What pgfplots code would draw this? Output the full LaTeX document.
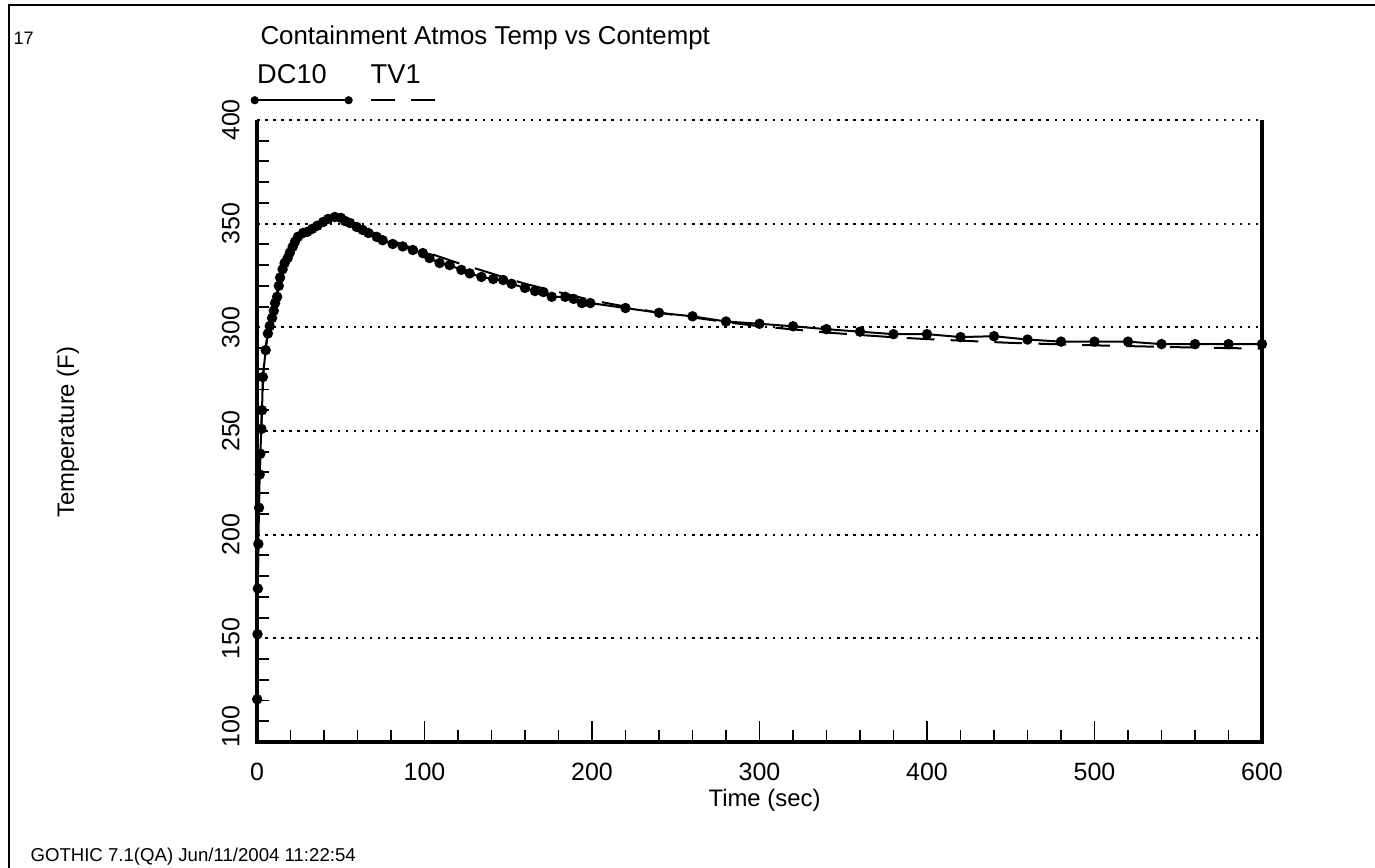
\documentclass[border=0pt]{standalone}
\usepackage{fontspec}
\setmainfont{Liberation Sans}
\usepackage{pgfplots}
\pgfplotsset{compat=1.18}
\begin{document}
\begin{tikzpicture}
\useasboundingbox (0,0) rectangle (495pt,312.48pt);
\draw[line width=0.72pt] (3.24pt,0pt) -- (3.24pt,310.68pt) -- (496pt,310.68pt);
\node[anchor=base west, inner sep=0pt, font=\fontsize{6.5}{7}\selectfont] at (4.68pt,296.28pt) {17};
\node[anchor=base west, inner sep=0pt, font=\fontsize{9.3}{10}\selectfont] at (93.6pt,296.3pt) {Containment Atmos Temp vs Contempt};
\node[anchor=base west, inner sep=0pt, font=\fontsize{6.7}{7}\selectfont] at (10.8pt,2.3pt) {GOTHIC 7.1(QA) Jun/11/2004 11:22:54};
\begin{axis}[
  at={(92.52pt,45.36pt)}, anchor=south west,
  scale only axis, width=361.8pt, height=223.92pt,
  xmin=0, xmax=600, ymin=100, ymax=400,
  xtick={0,100,...,600}, ytick={100,150,...,400},
  yticklabels={{\hspace*{11pt}100},150,200,250,300,350,400},
  minor x tick num=4, minor y tick num=4,
  xtick pos=bottom, ytick pos=left,
  tick align=inside,
  major tick length=7.56pt, minor tick length=4.2pt,
  major y tick style={draw=none},
  every tick/.append style={black, line width=0.7pt},
  ymajorgrids,
  major grid style={black, line width=0.7pt, dash pattern=on 0.9pt off 2pt},
  axis line style={draw=none},
  tick label style={font=\fontsize{9}{10}\selectfont},
  /pgf/number format/assume math mode=true,
  xticklabel style={inner sep=0pt}, xticklabel shift=7.2pt,
  yticklabel style={rotate=90, anchor=south, inner sep=0pt}, yticklabel shift=6.1pt,
  xlabel={Time (sec)}, ylabel={Temperature (F)},
  label style={font=\fontsize{8.6}{10}\selectfont},
  xlabel style={at={(axis description cs:0.505,-0.0932)}, anchor=center},
  ylabel style={at={(axis description cs:-0.188,0.498)}, anchor=center},
  clip=false,
  legend columns=2,
  legend style={draw=none, fill=none, inner sep=0pt, outer sep=0pt,
    at={(axis description cs:-0.0053,1.0268)}, anchor=south west,
    nodes={inner sep=0pt, outer sep=0pt},
    /tikz/column sep=0pt,
    /tikz/every even column/.append style={column sep=5.5pt}},
]
\addplot[black, line width=0.72pt, mark=*, mark size=1.5pt,
  legend image code/.code={
    \draw[black, line width=0.72pt, mark=*, mark size=1.1pt] plot coordinates {(0pt,0pt) (33.8pt,0pt)};
    \node[anchor=base west, inner sep=0pt, font=\fontsize{9.8}{10}\selectfont] at (0.9pt,6.1pt) {DC10};
  }] coordinates {
(0.1,120.6) (0.3,152) (0.5,174) (0.8,195.5) (1.2,213) (1.6,229) (2.0,239) (2.6,251)
(3.0,260) (3.5,276) (5.2,289) (6.5,297) (7.6,300.6) (9,304.5) (10,308) (10.8,311.7)
(12,314.7) (13,320) (13.8,324) (15.3,328) (16.5,331) (18.3,333.4) (19.6,336) (21.3,338.8)
(22.7,341.3) (24.5,343.7) (27.5,345.5) (30,346) (33,347.5) (36,349) (39.5,350.8) (42.5,352.3)
(46.5,353.2) (50,352.8) (52.5,351.3) (55.5,350.3) (59.5,348.4) (63,347) (66.5,345.5) (71.5,343.6)
(75,342) (81,340.2) (87,339) (93,337.3) (99,335.8) (103,333.4) (109,331) (115,330)
(122,327.7) (127,326) (134,324.3) (141,323.3) (147,322.8) (152,321) (160,319) (166,317.5)
(171,317) (176,314.7) (184,314.7) (189,313.7) (194,311.7) (199,311.7)
(220,309.3) (240,307) (260,305.3) (280,302.8) (300,301.7) (320,300.5) (340,299.1) (360,297.9)
(380,296.7) (400,296.7) (420,295.3) (440,295.7) (460,294.1) (480,293.1) (500,293.1) (520,293.1)
(540,291.9) (560,291.9) (580,291.9) (600,291.9)
};
\addlegendentry{\hspace{0pt}}
\addplot[black, line width=0.72pt, dash pattern=on 10pt off 5.8pt,
  legend image code/.code={
    \draw[black, line width=0.72pt, dash pattern=on 8.6pt off 6pt] (0pt,0pt) -- (23.2pt,0pt);
    \node[anchor=base west, inner sep=0pt, font=\fontsize{9.8}{10}\selectfont] at (0pt,6.1pt) {TV1};
  }] coordinates {
(0,100) (0.5,175) (1,210) (2,240) (3,262) (4,280) (5,290) (7,300) (10,310) (13,321)
(16,330) (20,337) (25,343) (30,347) (35,349.5) (40,351.5) (45,353) (48,353.5) (52,352.5)
(60,349) (70,345.5) (80,342) (90,339) (100,336.5) (120,331) (140,326) (160,321)
(180,317) (200,313) (220,310) (240,307) (260,304.8) (280,302.5) (300,300.5) (320,299)
(340,297.5) (360,296.3) (380,295.2) (400,294.3) (450,292.5) (500,291.3) (550,290.4) (600,289.7)
};
\addlegendentry{\hspace{0pt}}
\draw[black, line width=1.1pt] (rel axis cs:0,1) |- (rel axis cs:1,0) -- (rel axis cs:1,1);
\end{axis}
\end{tikzpicture}
\end{document}
